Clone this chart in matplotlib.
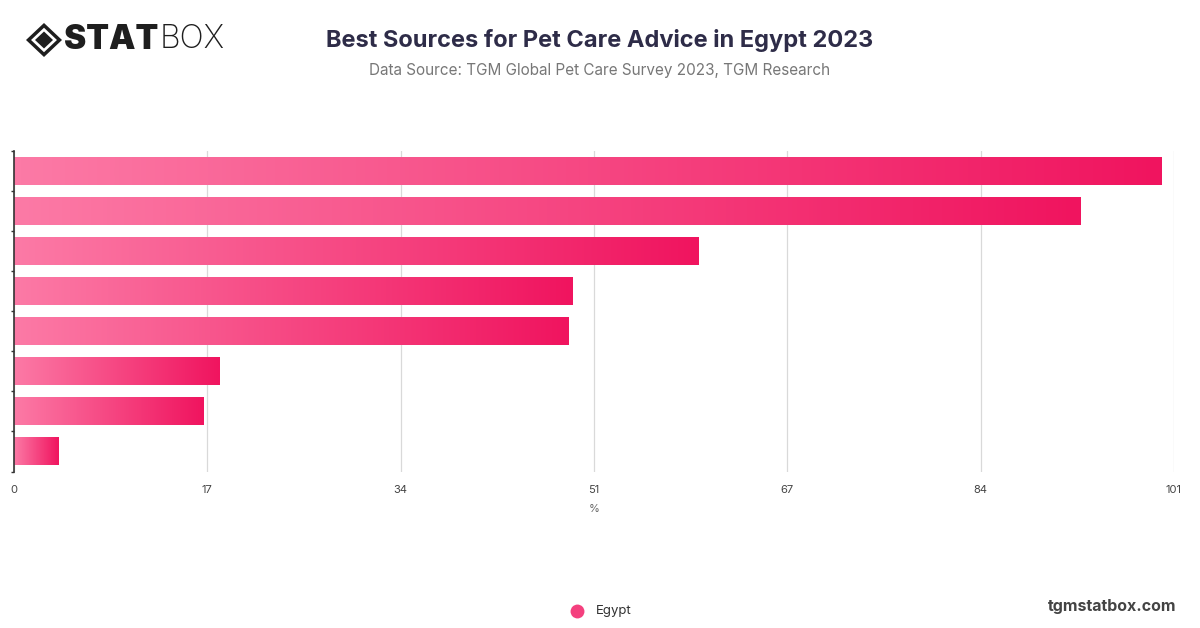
import numpy as np
import matplotlib.pyplot as plt
from matplotlib.colors import LinearSegmentedColormap
from matplotlib.patches import Polygon
from matplotlib.lines import Line2D

plt.rcParams['font.family'] = ['Inter', 'DejaVu Sans']

# values (category names are not shown on the chart)
values = [99.9, 92.9, 59.6, 48.6, 48.3, 17.9, 16.5, 3.9]
x_max = 101
tick_values = [x_max * k / 6 for k in range(7)]
tick_labels = ['0', '17', '34', '51', '67', '84', '101']
series_name = 'Egypt'

title = 'Best Sources for Pet Care Advice in Egypt 2023'
subtitle = 'Data Source: TGM Global Pet Care Survey 2023, TGM Research'

pink_cmap = LinearSegmentedColormap.from_list('pinks', ['#fc7aa6', '#f0145f'])

fig = plt.figure(figsize=(12, 6.28), dpi=100)
ax = fig.add_axes([14 / 1200, 1 - 471.5 / 628, (1174 - 14) / 1200, (471.5 - 151) / 628])

n = len(values)
bar_h = 0.68
grad = np.linspace(0, 1, 256).reshape(1, -1)
for i, v in enumerate(values):
    ax.imshow(grad, cmap=pink_cmap, aspect='auto', interpolation='bicubic',
              extent=(0, v, i + bar_h / 2, i - bar_h / 2), zorder=2)

ax.set_xlim(0, x_max)
ax.set_ylim(n - 0.5, -0.5)
ax.set_xticks(tick_values)
ax.set_xticklabels(tick_labels)
ax.set_yticks(np.arange(n + 1) - 0.5)
ax.set_yticklabels([])
ax.tick_params(axis='y', length=2, width=1, color='#333333')
ax.tick_params(axis='x', length=0, pad=10, labelsize=8, labelcolor='#444444')
ax.grid(axis='x', color='#d9d9d9', linewidth=0.9, zorder=0)
for s in ['top', 'right', 'bottom']:
    ax.spines[s].set_visible(False)
ax.spines['left'].set_color('#333333')
ax.spines['left'].set_linewidth(1.2)
ax.spines['left'].set_zorder(3)
ax.set_xlabel('%', fontsize=8, color='#666666', labelpad=6)

# header
fig.text(0.5, 1 - 40 / 628, title, ha='center', va='center',
         fontsize=17, fontweight='bold', color='#2e2c48')
fig.text(0.5, 1 - 71 / 628, subtitle, ha='center', va='center',
         fontsize=11, color='#777777')

# logo
logo = fig.add_axes([26 / 1200, 1 - 57 / 628, 36 / 1200, 34 / 628])
logo.set_xlim(-1, 1)
logo.set_ylim(-1, 1)
logo.axis('off')
logo.add_patch(Polygon([(0, 1), (1, 0), (0, -1), (-1, 0)], closed=True,
                       facecolor='#1e1e1e', edgecolor='none'))
logo.add_patch(Polygon([(0, 0.72), (0.72, 0), (0, -0.72), (-0.72, 0)], closed=True,
                       facecolor='white', edgecolor='none'))
logo.add_patch(Polygon([(0, 0.5), (0.5, 0), (0, -0.5), (-0.5, 0)], closed=True,
                       facecolor='#1e1e1e', edgecolor='none'))
fig.text(64 / 1200, 1 - 40 / 628, 'STAT', ha='left', va='center',
         fontsize=24, fontweight='black', color='#1e1e1e')
fig.text(160 / 1200, 1 - 40 / 628, 'BOX', ha='left', va='center',
         fontsize=23, fontweight='light', color='#1e1e1e')

# legend + footer
fig.add_artist(Line2D([577 / 1200], [1 - 611 / 628], marker='o', markersize=10,
                      markerfacecolor='#f4407e', markeredgecolor='none',
                      transform=fig.transFigure))
fig.text(596 / 1200, 1 - 611 / 628, series_name, ha='left', va='center',
         fontsize=9.5, color='#333333')
fig.text(1176 / 1200, 1 - 606 / 628, 'tgmstatbox.com', ha='right', va='center',
         fontsize=11.5, fontweight='bold', color='#444444')

fig.savefig('out.png', dpi=100)
